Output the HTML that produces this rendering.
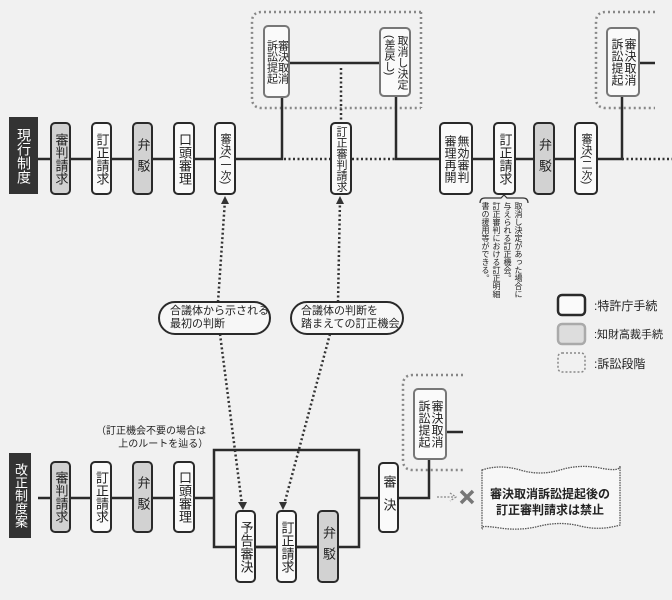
<!DOCTYPE html>
<html><head><meta charset="utf-8"><style>
body{margin:0;}
#c{position:relative;width:672px;height:600px;background:#f1f1f1;overflow:hidden;font-family:"Liberation Sans","Noto Sans CJK JP",sans-serif;color:#222;}
.b{position:absolute;box-sizing:border-box;border:2.5px solid #2a2a2a;border-radius:5px;background:#fafafa;display:flex;align-items:center;justify-content:center;writing-mode:vertical-rl;font-size:13px;line-height:14px;letter-spacing:0;}
.g{background:#d2d2d2;}
.k{background:#333;color:#fff;border-color:#333;border-radius:0;}
.t{position:absolute;font-size:12px;white-space:nowrap;}
svg{position:absolute;left:0;top:0;}
</style></head><body><div id="c">
<svg width="672" height="600">
<g fill="none" stroke="#888" stroke-width="2.5" stroke-dasharray="2 3">
<path d="M421 12 H262 Q252 12 252 22 V98 Q252 108 262 108 H421"/>
<path d="M421 12 Q421 60 421 108"/>
<path d="M655 12 H606 Q596 12 596 22 V98 Q596 108 606 108 H655"/>
<path d="M463 375 H413 Q403 375 403 385 V460 Q403 470 413 470 H463"/>
</g>
<g fill="none" stroke="#2a2a2a" stroke-width="2.5">
<path d="M38 159 H214 M236 159 H282 V97"/>
<path d="M289 63 H379 M396 97 V159 H439 M473 159 H574 M598 159 H622 V97 M640 63 H655"/>
<path d="M38 498 H214 M214 450 H359 V547 H214 Z M359 498 H379 M399 498 H429 V460 M447 432 H463"/>
<path d="M256 547 H317"/>
</g>
<g fill="none" stroke="#333" stroke-width="2.5" stroke-dasharray="2 2.5">
<path d="M284 159 H330 M352 159 H396 M622 159 H672 M341 68 V121"/>
<path d="M218 302 L225 200 M338 302 L340 200 M220 334 L242 505 M330 334 L284 505"/>
</g>
<g fill="#333"><path d="M225 196 l-4 8 h8z M340 196 l-4 8 h8z M243 510 l-5 -8 h9z M283 510 l-4 -8 h8z"/></g>
<path d="M437 497 H454 M450 493 L456 497 L450 501" stroke="#888" stroke-width="1.2" fill="none" stroke-dasharray="2 1.5"/>
<path d="M461 491 L473 503 M473 491 L461 503" stroke="#777" stroke-width="3.5"/>
<path d="M482 470 Q500 464 520 470 T560 470 T600 468 T620 466 L620 525 Q600 531 580 526 T540 526 T500 528 T482 528 Z" fill="#f7f7f7" stroke="#555" stroke-width="1.3" stroke-dasharray="1.5 1"/>
<rect x="159" y="302" width="111" height="32" rx="16" fill="#f7f7f7" stroke="#2a2a2a" stroke-width="2"/>
<rect x="291" y="302" width="112" height="32" rx="16" fill="#f7f7f7" stroke="#2a2a2a" stroke-width="2"/>
<path d="M480 203 q0 -5 5 -5 h16 l3 -3 l3 3 h16 q5 0 5 5" fill="none" stroke="#333" stroke-width="1.2"/>
<rect x="558" y="295" width="27" height="20" rx="4" fill="#fafafa" stroke="#2a2a2a" stroke-width="2.5"/>
<rect x="558" y="324" width="27" height="20" rx="4" fill="#ddd" stroke="#aaa" stroke-width="2.5"/>
<rect x="558" y="353" width="27" height="19" rx="4" fill="none" stroke="#888" stroke-width="1.5" stroke-dasharray="2 2"/>
</svg>
<div class="b k" style="left:9px;top:117px;width:29px;height:77px;font-size:14px;line-height:15px;">現行制度</div>
<div class="b g" style="left:50px;top:122px;width:21px;height:73px;">審判請求</div>
<div class="b" style="left:91px;top:122px;width:21px;height:73px;">訂正請求</div>
<div class="b g" style="left:132px;top:122px;width:21px;height:73px;letter-spacing:8px;">弁駁</div>
<div class="b" style="left:173px;top:122px;width:22px;height:73px;">口頭審理</div>
<div class="b" style="left:214px;top:122px;width:22px;height:73px;font-size:11px;">審決(一次)</div>
<div class="b" style="left:263px;top:25px;width:27px;height:73px;font-size:11px;line-height:11px;border-color:#777;">審決取消<br>訴訟提起</div>
<div class="b" style="left:379px;top:27px;width:32px;height:70px;font-size:11px;line-height:13px;border-color:#777;">取消し決定<br>(差戻し)</div>
<div class="b" style="left:330px;top:122px;width:22px;height:73px;font-size:11px;">訂正審判請求</div>
<div class="b" style="left:439px;top:122px;width:34px;height:73px;font-size:12px;line-height:13px;">無効審判<br>審理再開</div>
<div class="b" style="left:493px;top:122px;width:23px;height:73px;">訂正請求</div>
<div class="b g" style="left:533px;top:122px;width:22px;height:73px;letter-spacing:8px;">弁駁</div>
<div class="b" style="left:574px;top:122px;width:24px;height:73px;font-size:11px;">審決(二次)</div>
<div class="b" style="left:606px;top:27px;width:34px;height:70px;font-size:12px;line-height:13px;border-color:#777;">審決取消<br>訴訟提起</div>
<div class="t" style="left:480px;top:202px;height:96px;width:44px;writing-mode:vertical-rl;font-size:8px;line-height:11px;letter-spacing:0;">取消し決定があった場合に<br>与えられる訂正機会。<br>訂正審判における訂正明細<br>書の援用等ができる。</div>
<div class="t" style="left:594px;top:297px;font-size:12px;">:特許庁手続</div>
<div class="t" style="left:594px;top:326px;font-size:11px;">:知財高裁手続</div>
<div class="t" style="left:594px;top:355px;font-size:12px;">:訴訟段階</div>
<div class="t" style="left:170px;top:305px;font-size:11px;line-height:13px;">合議体から示される<br>最初の判断</div>
<div class="t" style="left:301px;top:305px;font-size:11px;line-height:13px;">合議体の判断を<br>踏まえての訂正機会</div>
<div class="t" style="left:96px;top:425px;font-size:10px;line-height:13px;">（訂正機会不要の場合は<br>&nbsp;&nbsp;&nbsp;&nbsp;&nbsp;&nbsp;&nbsp;&nbsp;上のルートを辿る）</div>
<div class="b k" style="left:9px;top:453px;width:22px;height:85px;">改正制度案</div>
<div class="b g" style="left:50px;top:461px;width:21px;height:72px;">審判請求</div>
<div class="b" style="left:90px;top:461px;width:22px;height:72px;">訂正請求</div>
<div class="b g" style="left:132px;top:461px;width:21px;height:72px;letter-spacing:8px;">弁駁</div>
<div class="b" style="left:173px;top:461px;width:22px;height:72px;">口頭審理</div>
<div class="b" style="left:235px;top:510px;width:21px;height:73px;">予告審決</div>
<div class="b" style="left:276px;top:510px;width:21px;height:73px;">訂正請求</div>
<div class="b g" style="left:317px;top:510px;width:22px;height:73px;letter-spacing:8px;">弁駁</div>
<div class="b" style="left:378px;top:462px;width:21px;height:71px;letter-spacing:10px;">審決</div>
<div class="b" style="left:413px;top:388px;width:34px;height:72px;font-size:12px;line-height:13px;border-color:#777;">審決取消<br>訴訟提起</div>
<div class="t" style="left:484px;top:486px;width:132px;text-align:center;font-size:12px;line-height:16px;font-weight:bold;">審決取消訴訟提起後の<br>訂正審判請求は禁止</div>
</div></body></html>
